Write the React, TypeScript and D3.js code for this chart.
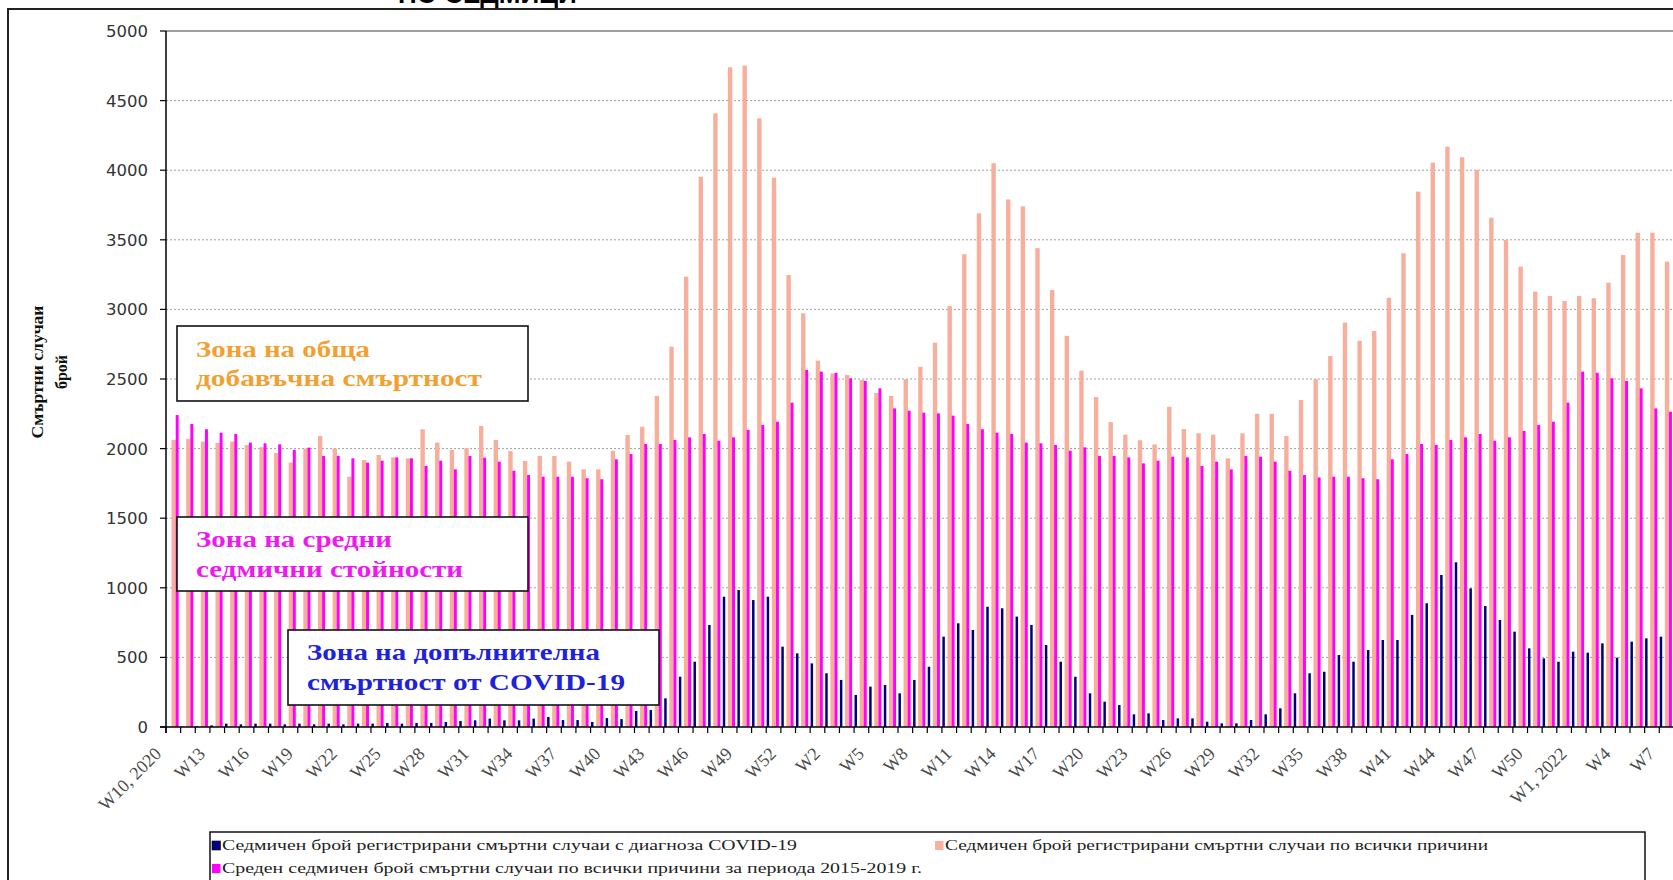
import React from "react";
import * as d3 from "d3";

// weekly categories: W10 2020 .. W53 2020, W1..W52 2021, W1..W7 2022
const periods: [number, number, number][] = [
  [2020, 10, 53],
  [2021, 1, 52],
  [2022, 1, 7],
];
const weeks: { label: string; year: number; week: number }[] = [];
periods.forEach(([year, from, to]) => {
  for (let w = from; w <= to; w++) {
    const first = weeks.length === 0 || (w === from && year !== 2021);
    weeks.push({ year, week: w, label: first ? `W${w}, ${year}` : `W${w}` });
  }
});

// registered COVID-19 deaths per week
const covid = [
  1, 3, 5, 12, 24, 19, 24, 24, 19, 24, 19, 24, 19, 24, 24, 29, 24, 29, 29, 36, 43, 48, 60, 48, 48, 60, 72,
  50, 50, 36, 64, 57, 115, 122, 206, 361, 469, 733, 936, 984, 912, 936, 577, 529, 457, 386, 338, 230, 290,
  302, 242, 338, 433, 649, 745, 697,
  864, 853, 793, 733, 589, 469, 361, 242, 182, 158, 91, 98, 50, 62, 62, 38, 26, 26, 50, 91, 134, 242, 386,
  397, 517, 469, 553,
  625, 625, 805, 889, 1092, 1183, 996, 869, 769, 685, 565, 493, 469, 541, 534, 601, 498, 613, 637, 649,
];

// registered deaths from all causes per week
const allCauses = [
  2062, 2070, 2050, 2040, 2050, 2026, 2010, 1968, 1899, 2000, 2090, 2000, 1798, 1918, 1954, 1937, 1930,
  2139, 2043, 1990, 2004, 2162, 2062, 1983, 1911, 1947, 1947, 1906,
  1851, 1851, 1985, 2098, 2157, 2378, 2732, 3235, 3953, 4408, 4739, 4751, 4373, 3946, 3247, 2972, 2632,
  2540, 2529, 2493, 2400, 2378, 2498, 2588, 2761, 3024, 3396, 3690,
  4050, 3790, 3740, 3440, 3140, 2810, 2560, 2370, 2190, 2100, 2060, 2030, 2300, 2140, 2110, 2100, 1930,
  2110, 2250, 2250, 2090,
  2349, 2498, 2665, 2905, 2775, 2845, 3084, 3403, 3846, 4054, 4169, 4093, 4002, 3659, 3499, 3307, 3127,
  3096, 3060, 3096, 3080, 3192, 3391, 3551, 3551, 3343,
];

// average weekly deaths from all causes 2015-2019
const average = [
  2241, 2177, 2139, 2114, 2105, 2043, 2038, 2031, 1990, 2007, 1947, 1947, 1930, 1899, 1913, 1937, 1930,
  1875, 1913, 1851, 1947, 1935, 1906, 1841, 1810, 1798, 1798, 1798, 1787, 1780, 1923, 1961, 2033, 2033,
  2062, 2081, 2105, 2057, 2081, 2134, 2170, 2193, 2330, 2565,
  2553, 2545, 2505, 2486, 2433, 2289, 2272, 2258, 2253, 2237, 2177, 2139, 2114, 2105, 2043, 2038, 2026,
  1985, 2009, 1947, 1947, 1937, 1894, 1913, 1942, 1937, 1875, 1906, 1851, 1947, 1942, 1906, 1841, 1810,
  1793, 1798, 1798, 1787, 1780, 1923, 1961, 2033, 2026, 2062, 2081, 2105, 2057, 2081, 2127, 2170, 2193,
  2330,
  2553, 2545, 2505, 2486, 2433, 2289, 2265,
];

const yTicks = [0, 500, 1000, 1500, 2000, 2500, 3000, 3500, 4000, 4500, 5000];

const legendItems = [
  { text: "Седмичен брой регистрирани смъртни случаи с диагноза COVID-19", color: "#000080", x: 212, y: 850, len: 575 },
  { text: "Седмичен брой регистрирани смъртни случаи по всички причини", color: "#F9B09C", x: 935, y: 850, len: 543 },
  { text: "Среден седмичен брой смъртни случаи по всички причини за периода 2015-2019 г.", color: "#FF00FF", x: 212, y: 873, len: 700 },
];

const zones = [
  { x: 177, y: 326, w: 351, h: 75, color: "#F2A032", lines: ["Зона на обща", "добавъчна смъртност"], lens: [174, 286], base: [357, 386] },
  { x: 177, y: 517, w: 351, h: 74, color: "#F018F0", lines: ["Зона на средни", "седмични стойности"], lens: [196, 267], base: [547, 577] },
  { x: 288, y: 630, w: 371, h: 75, color: "#1E22D8", lines: ["Зона на допълнителна", "смъртност от COVID-19"], lens: [293, 318], base: [660, 690] },
];

const serif = "'Liberation Serif', 'DejaVu Serif', serif";

export default function App() {
  const left = 166;
  const step = 14.64;
  const x = d3
    .scaleBand<number>()
    .domain(d3.range(weeks.length))
    .range([left, left + weeks.length * step])
    .paddingInner(0)
    .paddingOuter(0);
  const bw = x.bandwidth();
  const right = left + weeks.length * step;
  const y = d3.scaleLinear().domain([0, 5000]).range([727, 31]);

  const bar = (i: number, v: number, a: number, b: number, fill: string, key: string) => (
    <rect
      key={key}
      x={(x(i) as number) + a * bw}
      y={y(v)}
      width={(b - a) * bw}
      height={y(0) - y(v)}
      fill={fill}
    />
  );

  return (
    <svg
      width={1673}
      height={880}
      style={{ position: "absolute", left: 0, top: 0, background: "#fff" }}
    >
      {/* heading, cut off above the frame */}
      <text x={398} y={2.5} fontFamily="'Liberation Sans', sans-serif" fontWeight="bold" fontSize={26} fill="#000">
        ПО СЕДМИЦИ
      </text>
      <rect x={8} y={9} width={1720} height={920} fill="none" stroke="#222" strokeWidth={2} />

      {/* grid */}
      {yTicks.slice(1, -1).map((t) => (
        <line key={t} x1={left} x2={right} y1={y(t)} y2={y(t)} stroke="#a0a0a0" strokeDasharray="2,2" />
      ))}
      <line x1={left} x2={right} y1={y(5000)} y2={y(5000)} stroke="#808080" strokeWidth={1.5} />

      {/* bars */}
      <g>
        {allCauses.map((v, i) => bar(i, v, 0.38, 0.68, "#F7AE9C", "a" + i))}
        {average.map((v, i) => bar(i, v, 0.665, 0.865, "#FF00FF", "m" + i))}
        {covid.map((v, i) => bar(i, v, 0.03, 0.2, "#00007E", "c" + i))}
      </g>

      {/* axes */}
      <line x1={left} x2={left} y1={y(5000)} y2={y(0) + 6} stroke="#000" strokeWidth={1.5} />
      <line x1={left - 6} x2={right} y1={y(0)} y2={y(0)} stroke="#000" strokeWidth={1.5} />
      {yTicks.map((t) => (
        <g key={t}>
          <line x1={left - 6} x2={left} y1={y(t)} y2={y(t)} stroke="#000" strokeWidth={1.2} />
          <text
            x={148}
            y={y(t)}
            dy="0.36em"
            textAnchor="end"
            fontFamily="'DejaVu Sans', sans-serif"
            fontSize={16.5}
            fill="#333"
          >
            {t}
          </text>
        </g>
      ))}
      {d3.range(weeks.length + 1).map((i) => (
        <line key={i} x1={left + i * step} x2={left + i * step} y1={y(0)} y2={y(0) + 6} stroke="#000" strokeWidth={1.2} />
      ))}
      {weeks.map((w, i) =>
        i % 3 === 0 ? (
          <text
            key={i}
            transform={`translate(${(x(i) as number) + bw / 2 - 11},${755}) rotate(-45)`}
            textAnchor="end"
            fontFamily={serif}
            fontSize={18}
            fill="#4a4a4a"
          >
            {w.label}
          </text>
        ) : null
      )}

      {/* y title */}
      <g fontFamily={serif} fontWeight="bold" fontSize={16} fill="#111" textAnchor="middle">
        <text transform="translate(43,372) rotate(-90)" textLength={133} lengthAdjust="spacingAndGlyphs">
          Смъртни случаи
        </text>
        <text transform="translate(67,372) rotate(-90)">брой</text>
      </g>

      {/* zone annotations */}
      {zones.map((z) => (
        <g key={z.lines[0]}>
          <rect x={z.x} y={z.y} width={z.w} height={z.h} fill="#fff" stroke="#111" strokeWidth={1.6} />
          {z.lines.map((l, k) => (
            <text
              key={l}
              x={z.x + 19}
              y={z.base[k]}
              fontFamily={serif}
              fontWeight="bold"
              fontSize={22.5}
              fill={z.color}
              textLength={z.lens[k]}
              lengthAdjust="spacingAndGlyphs"
            >
              {l}
            </text>
          ))}
        </g>
      ))}

      {/* legend */}
      <rect x={210} y={832} width={1435} height={70} fill="#fff" stroke="#111" strokeWidth={1.5} />
      {legendItems.map((it) => (
        <g key={it.text}>
          <rect x={it.x} y={it.y - 9} width={8.5} height={9} fill={it.color} stroke={it.color === "#000080" ? "#000" : "none"} strokeWidth={0.6} />
          <text
            x={it.x + 10}
            y={it.y}
            fontFamily={serif}
            fontSize={14.5}
            fill="#222"
            textLength={it.len}
            lengthAdjust="spacingAndGlyphs"
          >
            {it.text}
          </text>
        </g>
      ))}
    </svg>
  );
}
